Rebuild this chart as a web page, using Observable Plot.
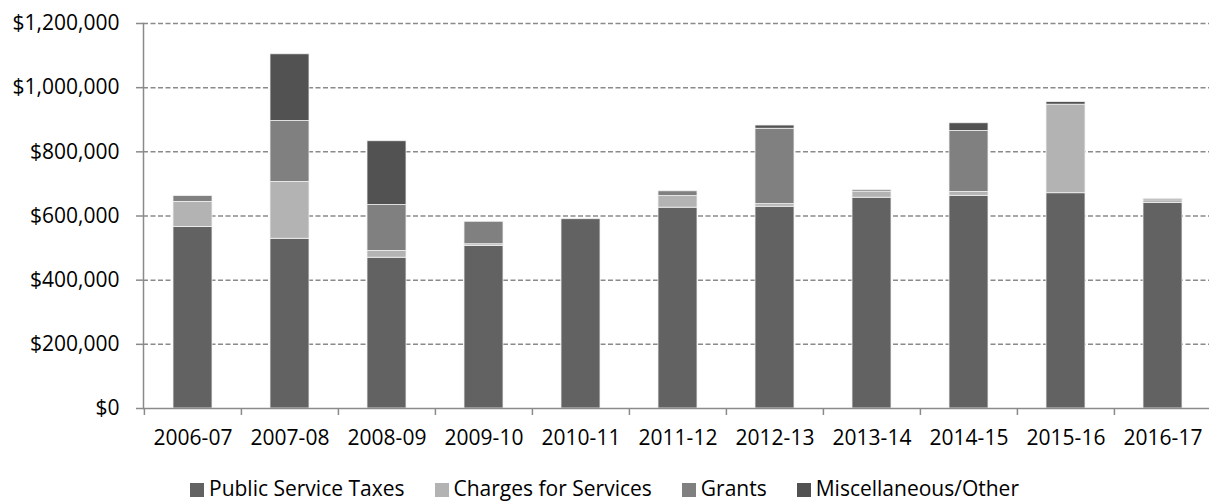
<!DOCTYPE html>
<html>
<head>
<meta charset="utf-8">
<script src="https://cdn.jsdelivr.net/npm/d3@7"></script>
<script src="https://cdn.jsdelivr.net/npm/@observablehq/plot@0.6"></script>
<style>
  html, body { margin: 0; padding: 0; background: #fff; }
  #wrap { position: relative; width: 1209px; height: 502px; overflow: hidden; font-family: "Open Sans", sans-serif; }
  #legend { position: absolute; left: 0; top: 478px; width: 1209px; display: flex; justify-content: center; gap: 30px; font-size: 21px; line-height: 21px; color: #000; }
  #legend .item { display: flex; align-items: center; }
  #legend .sw { width: 14px; height: 14px; margin-right: 5px; margin-top: 2px; }
</style>
</head>
<body>
<div id="wrap"><div id="chart"></div><div id="legend"></div></div>
<script>
const years = ["2006-07","2007-08","2008-09","2009-10","2010-11","2011-12","2012-13","2013-14","2014-15","2015-16","2016-17"];
const series = ["Public Service Taxes","Charges for Services","Grants","Miscellaneous/Other"];
const colors = ["#626262","#b3b3b3","#808080","#525252"];
const publicServiceTaxes = [566000, 529000, 470000, 507000, 590000, 626000, 629000, 657000, 663000, 671000, 641000];
const chargesForServices = [78000, 177000, 21000, 5000, 0, 36000, 8000, 19000, 12000, 276000, 8000];
const grants = [18000, 190000, 143000, 70000, 0, 15000, 235000, 5000, 190000, 0, 0];
const miscellaneous = [0, 208000, 199000, 0, 0, 0, 10000, 0, 24000, 8000, 4000];
const yTicks = [0, 200000, 400000, 600000, 800000, 1000000, 1200000];

const valuesBySeries = [publicServiceTaxes, chargesForServices, grants, miscellaneous];
const data = [];
series.forEach((s, si) => years.forEach((y, yi) => data.push({year: y, series: s, value: valuesBySeries[si][yi]})));

const W = 1209, H = 460;
const mL = 143, mR = -3, mT = 23, mB = H - 408;
const step = (W - mR - mL) / years.length;
const axisColor = "#8a8a8a";

const chart = Plot.plot({
  width: W, height: H,
  marginLeft: mL, marginRight: mR, marginTop: mT, marginBottom: mB,
  style: {fontFamily: "Open Sans, sans-serif", fontSize: "21px", color: "#000", background: "#fff", overflow: "visible"},
  x: {domain: years, paddingInner: 0.6, paddingOuter: 0.3, align: 0.5},
  y: {domain: [0, 1200000]},
  color: {domain: series, range: colors},
  marks: [
    Plot.ruleY(yTicks.filter(d => d > 0), {stroke: axisColor, strokeWidth: 1.5, strokeDasharray: "5,2.5"}),
    Plot.barY(data, Plot.stackY({order: series}, {x: "year", y: "value", fill: "series", stroke: "#f2f2f2", strokeWidth: 0.8})),
    Plot.ruleY([0], {stroke: axisColor, strokeWidth: 1.5}),
    Plot.frame({anchor: "left", stroke: axisColor, strokeWidth: 1.5}),
    Plot.axisY({ticks: yTicks, tickFormat: d3.format("$,"), tickSize: 7, tickPadding: 17, stroke: axisColor, strokeWidth: 1.5, label: null, fontSize: 21}),
    Plot.ruleX(years, {x: d => d, dx: -step / 2, y1: 0, y2: 0, insetBottom: -7, stroke: axisColor, strokeWidth: 1.5}),
    Plot.axisX({tickSize: 0, tickPadding: 22, label: null, fontSize: 21})
  ]
});
document.getElementById("chart").appendChild(chart);

const lg = document.getElementById("legend");
series.forEach((s, i) => {
  const it = document.createElement("div");
  it.className = "item";
  const sw = document.createElement("div");
  sw.className = "sw";
  sw.style.background = colors[i];
  const t = document.createElement("span");
  t.textContent = s;
  it.appendChild(sw); it.appendChild(t);
  lg.appendChild(it);
});
</script>
</body>
</html>
